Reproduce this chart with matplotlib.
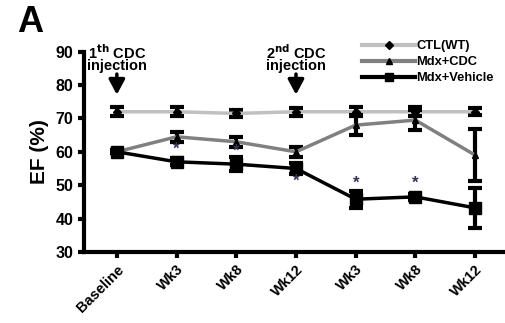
import matplotlib
matplotlib.use("Agg")
import matplotlib.pyplot as plt
from matplotlib.lines import Line2D
import numpy as np

categories = ["Baseline", "Wk3", "Wk8", "Wk12", "Wk3", "Wk8", "Wk12"]
ctl = [72, 72, 71.5, 72, 72, 72, 72]
ctl_err = [1.3, 1.3, 1.0, 1.2, 1.3, 1.3, 1.0]
cdc = [60, 64.5, 63, 60, 68, 69.5, 59]
cdc_err = [0.5, 1.5, 1.5, 1.5, 3.0, 3.0, 7.7]
veh = [60, 57, 56.3, 55, 45.8, 46.5, 43.2]
veh_err = [0.5, 1.0, 2.0, 1.5, 2.5, 1.0, 6.0]
star_x = [1, 2, 3, 4, 5]
star_y = [60.7, 60.3, 51.3, 50.5, 50.5]

plt.rcParams['font.family'] = ['Liberation Sans', 'DejaVu Sans']
plt.rcParams['font.weight'] = 'bold'

fig = plt.figure(figsize=(5.06, 3.23), dpi=100)
ax = fig.add_axes([0.166, 0.22, 0.832, 0.62])
x = np.arange(len(categories))

ax.errorbar(x, ctl, yerr=ctl_err, color='#c0c0c0', lw=2.5, marker='D', ms=4,
            mfc='black', mec='black', ecolor='black', elinewidth=3, capsize=5, capthick=3,
            zorder=2)
ax.errorbar(x, cdc, yerr=cdc_err, color='#808080', lw=2.5, marker='^', ms=5,
            mfc='black', mec='black', ecolor='black', elinewidth=3, capsize=5, capthick=3,
            zorder=3)
ax.errorbar(x, veh, yerr=veh_err, color='black', lw=2.5, marker='s', ms=8,
            mfc='black', mec='black', ecolor='black', elinewidth=3, capsize=5, capthick=3,
            zorder=4)

for sx, sy in zip(star_x, star_y):
    ax.text(sx, sy, '*', ha='center', va='center', fontsize=12, color='#333355', zorder=6)

ax.set_xlim(-0.55, 6.5)
ax.set_ylim(30, 90)
ax.set_yticks([30, 40, 50, 60, 70, 80, 90])
ax.set_xticks(x)
ax.set_xticklabels(categories, rotation=45, ha='right', rotation_mode='anchor', fontsize=10.5)
ax.tick_params(axis='y', labelsize=11.5, width=3, length=4, direction='out')
ax.tick_params(axis='x', width=3, length=4, direction='out')
for s in ['top', 'right']:
    ax.spines[s].set_visible(False)
for s in ['left', 'bottom']:
    ax.spines[s].set_linewidth(3)
ax.set_ylabel('EF (%)', fontsize=15, fontweight='bold', labelpad=5)

arrow_kw = dict(arrowstyle='-|>,head_width=0.4,head_length=0.75', color='black',
                lw=2.5, mutation_scale=12, shrinkA=0, shrinkB=0)
ax.annotate('', xy=(0, 77.1), xytext=(0, 83.3), arrowprops=arrow_kw)
ax.text(0, 83.6, '1$^{\\mathbf{th}}$ CDC\ninjection', ha='center', va='bottom', fontsize=10.5,
        linespacing=0.75)
ax.annotate('', xy=(3, 77.1), xytext=(3, 83.3), arrowprops=arrow_kw)
ax.text(3, 83.6, '2$^{\\mathbf{nd}}$ CDC\ninjection', ha='center', va='bottom', fontsize=10.5,
        linespacing=0.75)

handles = [
    Line2D([], [], color='#c0c0c0', lw=3, marker='D', ms=4, mfc='black', mec='black'),
    Line2D([], [], color='#808080', lw=3, marker='^', ms=5, mfc='black', mec='black'),
    Line2D([], [], color='black', lw=3, marker='s', ms=6, mfc='black', mec='black'),
]
labels = ['CTL(WT)', 'Mdx+CDC', 'Mdx+Vehicle']
leg = fig.legend(handles, labels, loc='upper left', bbox_to_anchor=(0.716, 0.875), frameon=False,
                 fontsize=9.3, handlelength=4.1, labelspacing=0.3, borderaxespad=0,
                 handletextpad=0.1, borderpad=0)

fig.text(0.06, 0.93, 'A', fontsize=26, fontweight='bold', ha='center', va='center')

fig.savefig('out.png', dpi=100)
